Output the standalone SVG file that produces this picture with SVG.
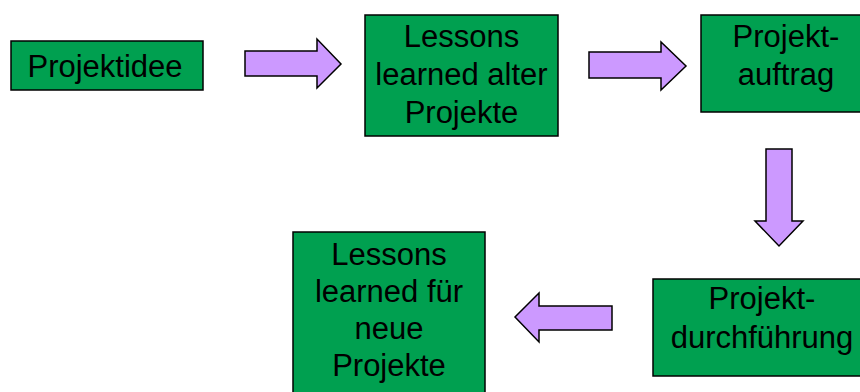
<svg xmlns="http://www.w3.org/2000/svg" width="860" height="392" viewBox="0 0 860 392">
<style>
.box{fill:#00A050;stroke:#000;stroke-width:1.5}
.arr{fill:#CC99FF;stroke:#000;stroke-width:1.5;stroke-linejoin:miter}
text{font-family:"Liberation Sans",Arial,sans-serif;font-size:31px;fill:#000;text-anchor:middle}
</style>
<rect width="860" height="392" fill="#fff"/>
<g id="projektidee">
<rect class="box" x="11" y="41" width="192" height="49"/>
<text x="105" y="77">Projektidee</text>
</g>
<g id="lessons-alt">
<rect class="box" x="365" y="15" width="193" height="121"/>
<text x="461.5" y="47">Lessons</text>
<text x="461.5" y="85">learned alter</text>
<text x="461.5" y="123">Projekte</text>
</g>
<g id="projektauftrag">
<rect class="box" x="701" y="15" width="170" height="97"/>
<text x="786" y="47">Projekt-</text>
<text x="786" y="85">auftrag</text>
</g>
<g id="projektdurchfuehrung">
<rect class="box" x="653" y="279" width="218" height="97"/>
<text x="762" y="309">Projekt-</text>
<text x="762" y="348">durchführung</text>
</g>
<g id="lessons-neu">
<rect class="box" x="293" y="232" width="192" height="170"/>
<text x="389" y="265">Lessons</text>
<text x="389" y="302">learned für</text>
<text x="389" y="339">neue</text>
<text x="389" y="376">Projekte</text>
</g>
<g id="connectors">
<polygon class="arr" points="245,51 317,51 317,39 341,64 317,88 317,76 245,76"/>
<polygon class="arr" points="589,52 661,52 661,42 686,66 661,90 661,78 589,78"/>
<polygon class="arr" points="766,149 792,149 792,221 803,221 779,246 755,221 766,221"/>
<polygon class="arr" points="612,306 539,306 539,293 515,317 539,342 539,330 612,330"/>
</g>
</svg>
